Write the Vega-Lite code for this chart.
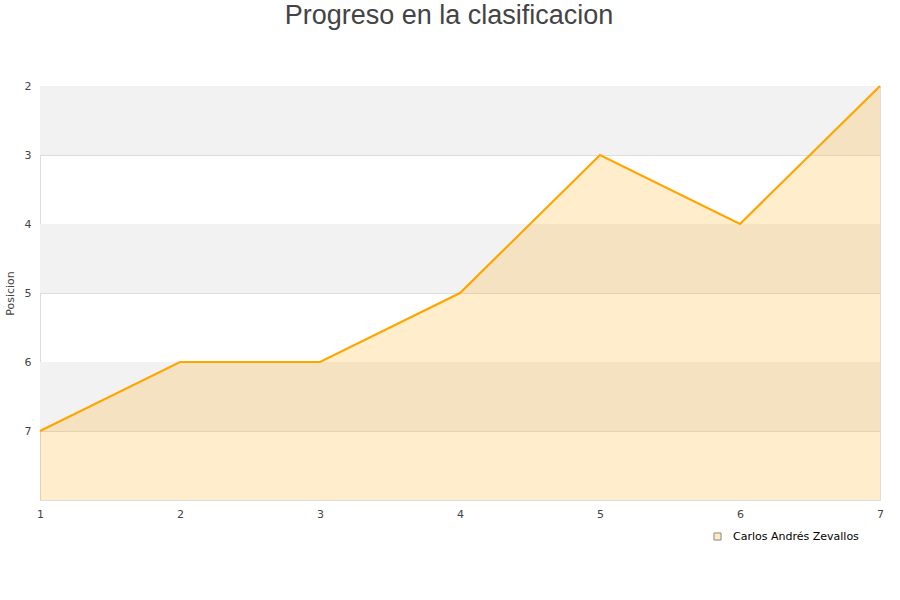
{
  "$schema": "https://vega.github.io/schema/vega-lite/v6.json",
  "width": 840,
  "height": 414,
  "autosize": "none",
  "padding": {"left": 40, "top": 86, "right": 20, "bottom": 100},
  "background": "white",
  "title": {"text": "Progreso en la clasificacion", "font": "Liberation Sans", "fontSize": 27, "fontWeight": "normal", "color": "#444444", "anchor": "middle", "offset": 50, "dx": -11},
  "config": {"view": {"stroke": "#dddddd", "strokeWidth": 1}},
  "datasets": {
    "bands": [{"a": 2, "b": 3}, {"a": 4, "b": 5}, {"a": 6, "b": 7}],
    "serie": [
      {"jornada": 1, "posicion": 7, "jugador": "Carlos Andrés Zevallos"},
      {"jornada": 2, "posicion": 6, "jugador": "Carlos Andrés Zevallos"},
      {"jornada": 3, "posicion": 6, "jugador": "Carlos Andrés Zevallos"},
      {"jornada": 4, "posicion": 5, "jugador": "Carlos Andrés Zevallos"},
      {"jornada": 5, "posicion": 3, "jugador": "Carlos Andrés Zevallos"},
      {"jornada": 6, "posicion": 4, "jugador": "Carlos Andrés Zevallos"},
      {"jornada": 7, "posicion": 2, "jugador": "Carlos Andrés Zevallos"}
    ]
  },
  "resolve": {"scale": {"fill": "independent"}},
  "layer": [
    {
      "data": {"name": "bands"},
      "mark": {"type": "rect", "fill": "#f2f2f2"},
      "encoding": {
        "y": {"field": "a", "type": "quantitative", "scale": {"domain": [2, 8], "reverse": true, "nice": false, "zero": false},
              "axis": {"title": "Posicion", "values": [2, 3, 4, 5, 6, 7], "format": "d", "ticks": false, "domain": false, "grid": true, "gridColor": "#dddddd", "labelFont": "DejaVu Sans", "labelFontSize": 11, "labelColor": "#444444", "labelPadding": 9, "labelFlush": false, "titleFont": "DejaVu Sans", "titleFontSize": 11, "titleFontWeight": "normal", "titleColor": "#444444", "titlePadding": 9}},
        "y2": {"field": "b"}
      }
    },
    {
      "data": {"name": "serie"},
      "mark": {"type": "area", "opacity": 0.2, "line": false, "fill": "#ffa500"},
      "encoding": {
        "x": {"field": "jornada", "type": "quantitative", "scale": {"domain": [1, 7], "nice": false, "zero": false},
              "axis": {"title": null, "values": [1, 2, 3, 4, 5, 6, 7], "format": "d", "ticks": false, "domain": false, "grid": false, "labelFlush": false, "labelFont": "DejaVu Sans", "labelFontSize": 11, "labelColor": "#444444", "labelPadding": 8}},
        "y": {"field": "posicion", "type": "quantitative"},
        "y2": {"datum": 8}
      }
    },
    {
      "data": {"name": "serie"},
      "mark": {"type": "line", "stroke": "#ffa500", "strokeWidth": 2.2},
      "encoding": {
        "x": {"field": "jornada", "type": "quantitative"},
        "y": {"field": "posicion", "type": "quantitative"}
      }
    },
    {
      "data": {"name": "serie"},
      "mark": {"type": "square", "opacity": 0, "size": 50, "stroke": "#888888", "strokeWidth": 1, "filled": true},
      "encoding": {
        "x": {"field": "jornada", "type": "quantitative"},
        "y": {"field": "posicion", "type": "quantitative"},
        "fill": {"field": "jugador", "type": "nominal", "scale": {"range": ["#ffe9c4"]},
                 "legend": {"title": null, "orient": "none", "legendX": 672, "legendY": 445, "symbolType": "square", "symbolSize": 50, "symbolOpacity": 1, "symbolStrokeColor": "#888888", "symbolStrokeWidth": 1, "labelOffset": 10, "labelFont": "DejaVu Sans", "labelFontSize": 11, "labelColor": "#000000"}}
      }
    }
  ]
}
